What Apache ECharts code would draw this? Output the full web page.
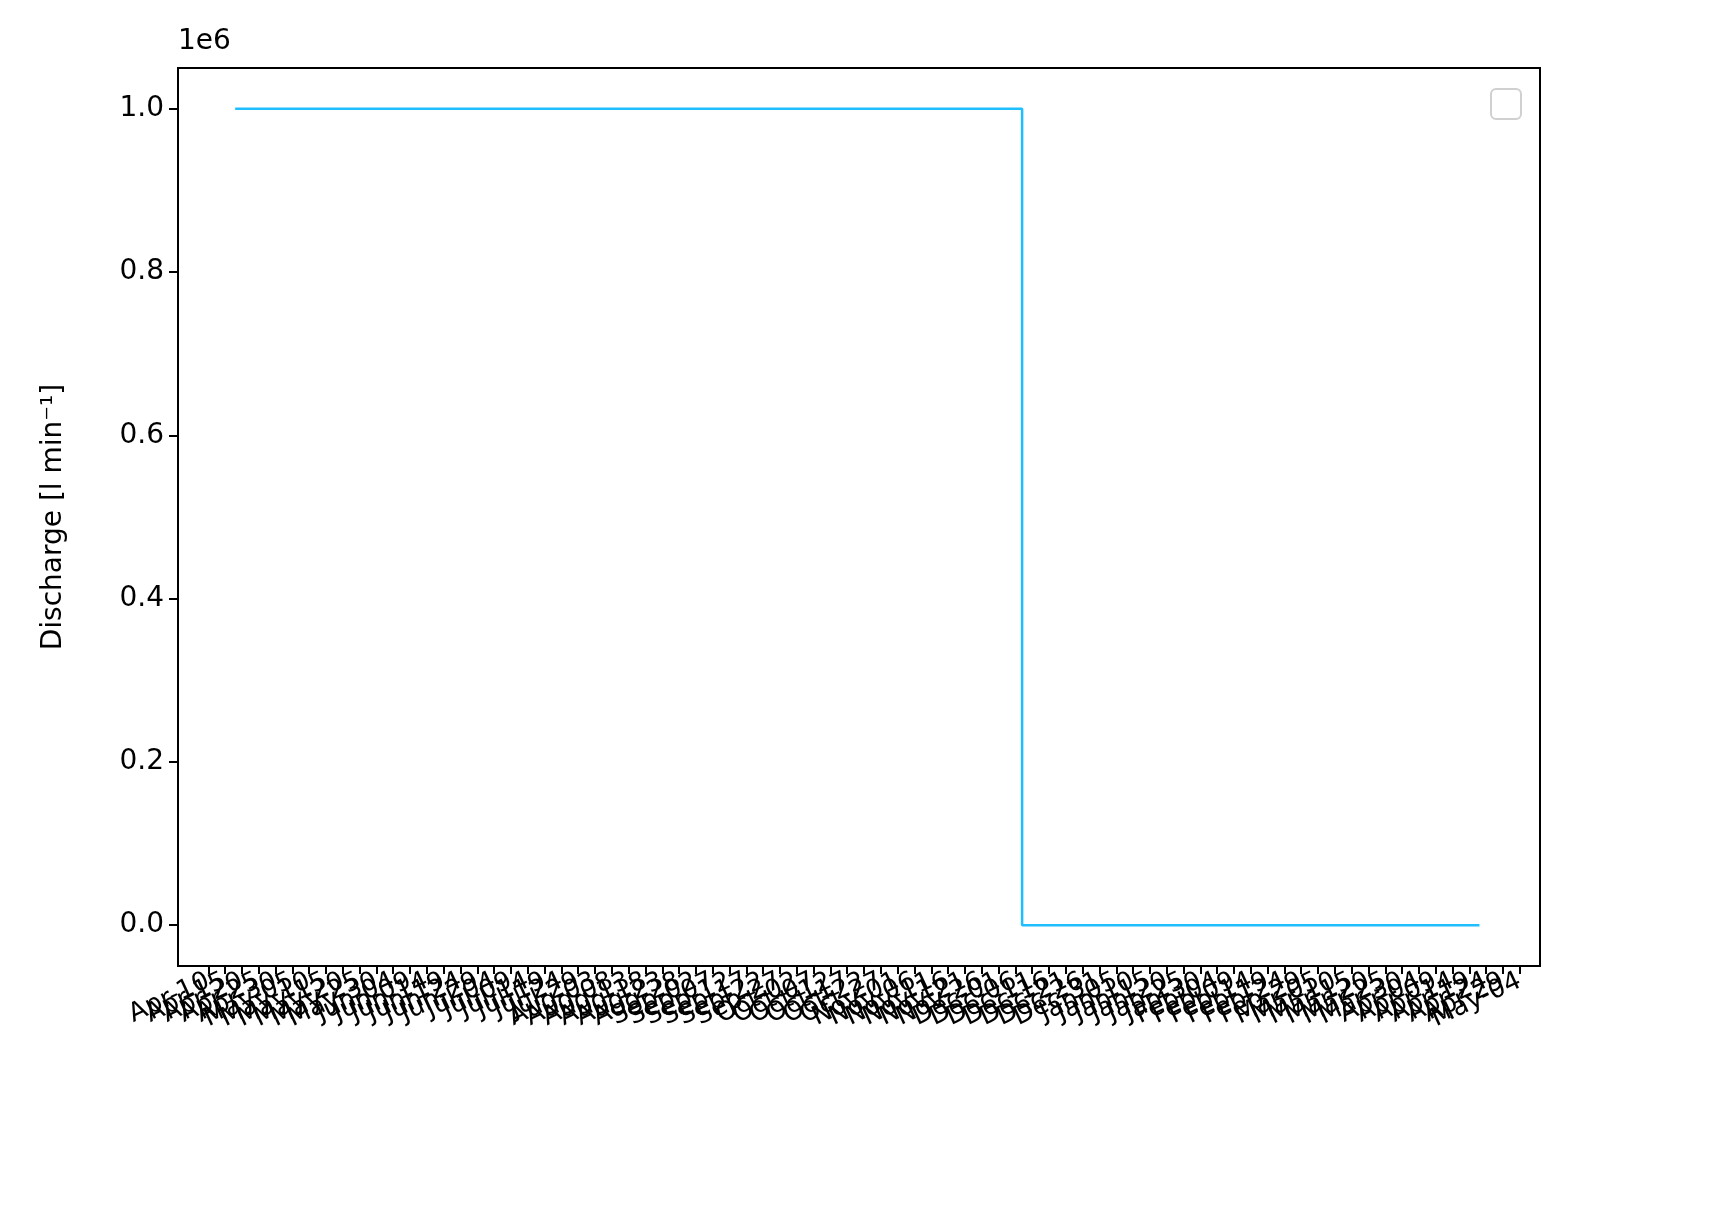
<!DOCTYPE html>
<html>
<head>
<meta charset="utf-8">
<script src="https://cdn.jsdelivr.net/npm/echarts@6/dist/echarts.min.js"></script>
<style>html,body{margin:0;background:#fff}#main{width:1711px;height:1226px}</style>
</head>
<body>
<div id="main"></div>
<script>
// step series: discharge in l/min
var dates = ['2019-04-18', '2019-12-08', '2019-12-08', '2020-04-22'];
var discharge = [1000000, 1000000, 0, 0];
var yTicks = [0, 200000, 400000, 600000, 800000, 1000000];
var axisStart = '2019-04-01';
var axisEnd = '2020-05-10';

function ms(d) { return +new Date(d + 'T00:00:00Z'); }

// major x ticks every 5 days (the original's labels overlap into a jumble)
var xTicks = [];
for (var t = ms(axisStart) + 4 * 864e5; t < ms(axisEnd); t += 5 * 864e5) {
    xTicks.push(t);
}
var months = ['Jan','Feb','Mar','Apr','May','Jun','Jul','Aug','Sep','Oct','Nov','Dec'];

var chart = echarts.init(document.getElementById('main'));
var option = {
    animation: false,
    textStyle: { fontFamily: 'DejaVu Sans', color: '#000' },
    grid: { left: 178, right: 171, top: 68, bottom: 260, show: true, borderColor: '#000', borderWidth: 2 },
    xAxis: {
        type: 'value',
        min: ms(axisStart), max: ms(axisEnd),
        axisLine: { onZero: false, lineStyle: { color: '#000', width: 2 } },
        splitLine: { show: false },
        axisTick: { customValues: xTicks, length: 8, lineStyle: { color: '#000', width: 2 } },
        axisLabel: {
            customValues: xTicks,
            rotate: 25, fontSize: 26, color: '#000', hideOverlap: false, margin: 14,
            formatter: function (v) {
                var d = new Date(v);
                var dd = d.getUTCDate();
                return months[d.getUTCMonth()] + '-' + (dd < 10 ? '0' + dd : dd);
            }
        }
    },
    yAxis: {
        type: 'value',
        min: -50000, max: 1050000,
        name: 'Discharge [l min\u207B\u00B9]',
        nameLocation: 'middle', nameGap: 110, nameRotate: 90,
        nameTextStyle: { fontSize: 28, color: '#000' },
        axisLine: { show: true, lineStyle: { color: '#000', width: 2 } },
        splitLine: { show: false },
        axisTick: { customValues: yTicks, length: 9, lineStyle: { color: '#000', width: 2 } },
        axisLabel: {
            customValues: yTicks, fontSize: 28, color: '#000', margin: 14,
            formatter: function (v) { return (v / 1e6).toFixed(1); }
        }
    },
    graphic: [
        { type: 'text', left: 178, top: 28, style: { text: '1e6', font: '28px DejaVu Sans', fill: '#000' } },
        { type: 'rect', shape: { x: 1491, y: 89, width: 30, height: 30, r: 5 }, style: { fill: '#fff', stroke: '#d0d0d0', lineWidth: 2 } }
    ],
    series: [{
        type: 'line',
        data: dates.map(function (d, i) { return [ms(d), discharge[i]]; }),
        showSymbol: false,
        lineStyle: { color: '#1fbfff', width: 2.5 }
    }]
};
chart.setOption(option);
</script>
</body>
</html>
